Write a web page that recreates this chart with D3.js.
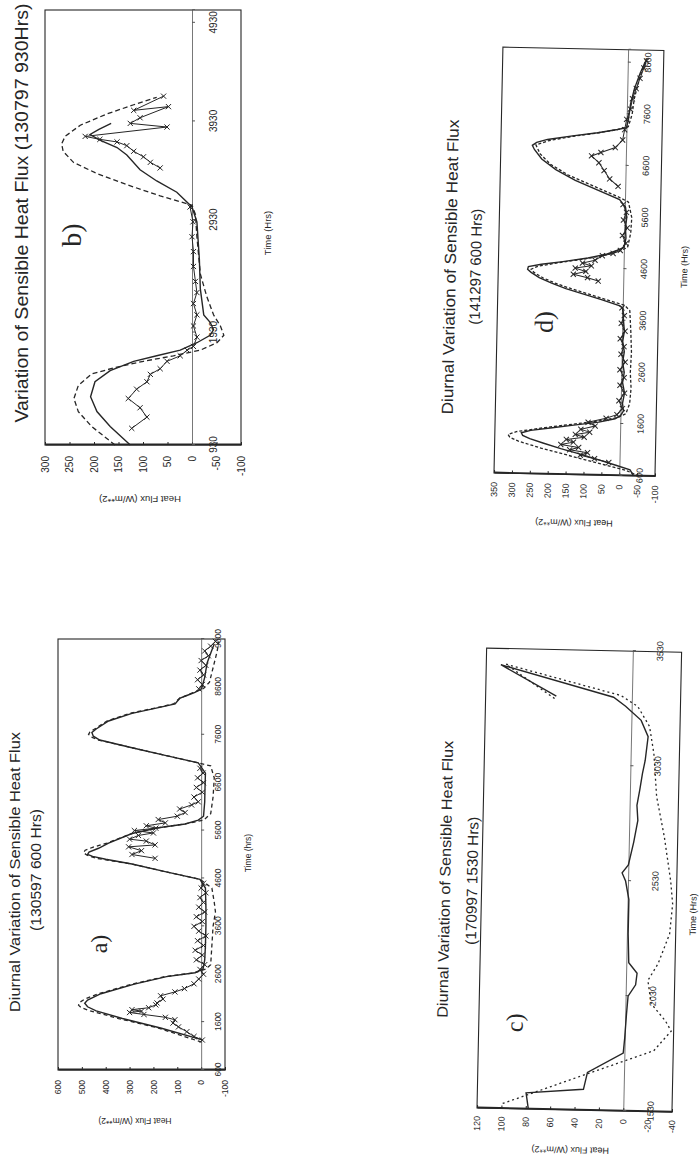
<!DOCTYPE html>
<html lang="en">
<head>
<meta charset="UTF-8" />
<title>Diurnal Variation of Sensible Heat Flux</title>
<script src="https://cdnjs.cloudflare.com/ajax/libs/d3/7.8.5/d3.min.js"></script>
<style>
  body { margin: 0; background: #fff; }
  svg { display: block; }
</style>
</head>
<body>
<script>
// ---- data (time in Hrs, heat flux in W/m**2) ----
// chart a) 130597 600 Hrs
const aTimeTicks = [600, 1600, 2600, 3600, 4600, 5600, 6600, 7600, 8600, 9600];
const aFluxTicks = [-100, 0, 100, 200, 300, 400, 500, 600];
const aSolid = [[1230,-5],[1476,170],[1675,330],[1835,440],[1920,476],[1994,488],[2060,476],[2193,420],[2392,280],[2551,145],[2631,26],[2711,-8],[2900,-15],[3200,-18],[3600,-20],[4000,-20],[4400,-18],[4583,5],[4742,151],[4901,290],[5000,400],[5060,455],[5100,476],[5150,470],[5230,430],[5339,388],[5538,290],[5658,179],[5738,67],[5817,12],[5900,-10],[6200,-15],[6454,-16],[6800,-18],[7012,12],[7171,151],[7330,290],[7490,425],[7570,452],[7649,458],[7720,440],[7888,388],[8047,290],[8167,179],[8246,109],[8300,100],[8366,88],[8420,60],[8485,26],[8565,-2],[8800,-15],[9100,-25],[9300,-40],[9500,-55]];
const aDash = [[1181,-2],[1476,179],[1675,346],[1835,465],[1900,502],[1954,514],[2010,510],[2080,488],[2193,430],[2392,290],[2551,151],[2631,26],[2711,-20],[2800,-40],[3200,-45],[3600,-50],[3900,-60],[4100,-55],[4400,-45],[4583,5],[4742,151],[4901,290],[5020,440],[5090,480],[5140,493],[5190,486],[5250,455],[5339,395],[5538,290],[5658,179],[5738,67],[5817,-10],[5950,-40],[6300,-50],[6700,-55],[6950,-40],[7012,12],[7171,151],[7330,290],[7490,430],[7550,460],[7609,472],[7660,466],[7740,440],[7888,395],[8047,300],[8167,185],[8246,115],[8366,90],[8485,30],[8565,-10],[8700,-35],[9000,-50],[9300,-65],[9550,-75]];
const aObs = [[1226,-5],[1300,30],[1400,60],[1500,95],[1580,118],[1650,110],[1700,150],[1760,240],[1800,300],[1830,250],[1860,290],[1900,220],[1960,190],[2000,185],[2080,160],[2150,170],[2230,110],[2300,70],[2400,30],[2500,10],[2600,-10],[2700,5],[2800,-15],[2900,20],[3000,-5],[3100,25],[3200,-10],[3300,15],[3400,-20],[3500,10],[3600,30],[3700,-5],[3800,20],[3900,-15],[4000,10],[4100,-10],[4200,5],[4300,-20],[4400,0],[4500,-10],null,[5020,193],[5100,290],[5180,250],[5260,304],[5300,193],[5380,230],[5420,300],[5498,263],[5550,200],[5600,280],[5650,190],[5700,230],[5760,150],[5830,180],[5900,100],[5976,67],[6050,90],[6135,40],[6200,12],[6300,30],[6400,-5],[6500,20],[6600,-10],[6700,15],[6800,-8],[6900,5],null,[8560,10],[8650,-5],[8750,15],[8850,-10],[8950,5],[9050,-20],[9150,0],[9250,-30],[9350,-15],[9450,-40],[9550,-60]];

// chart b) 130797 930 Hrs
const bTimeTicks = [930, 1930, 2930, 3930, 4930];
const bFluxTicks = [-100, -50, 0, 50, 100, 150, 200, 250, 300];
const bSolid = [[930,126],[1095,167],[1227,194],[1359,207],[1492,198],[1591,167],[1674,119],[1723,72],[1773,24],[1839,-10],[1905,-37],[1955,-44],[2021,-37],[2087,-24],[2318,-17],[2583,-15],[2914,-10],[3062,0],[3212,31],[3326,72],[3439,106],[3590,133],[3665,153],[3741,188],[3797,208],[3850,190],[3910,165]];
const bDash = [[930,157],[1095,205],[1227,232],[1343,241],[1459,232],[1561,205],[1623,153],[1674,99],[1723,38],[1773,-17],[1839,-51],[1905,-65],[1988,-58],[2087,-44],[2252,-30],[2450,-17],[2781,-10],[2986,-7],[3080,0],[3175,65],[3288,133],[3401,194],[3515,242],[3627,263],[3703,266],[3778,259],[3891,228],[4005,174],[4099,119],[4174,72]];
const bObs = [[1078,123],[1178,92],[1261,106],[1343,130],[1426,113],[1492,92],[1558,85],[1608,65],[1674,51],[1723,24],[1773,10],[1806,-3],[1889,-10],[1988,-3],[2087,-10],[2187,-3],[2285,-10],[2384,-7],[2517,-3],[2649,-3],[2781,0],[2914,-2],[3062,4],null,[3458,65],[3515,85],[3571,99],[3627,119],[3684,133],[3722,153],[3748,188],[3778,218],[3873,51],[3910,126],[3967,106],[4080,48],[4042,119],[4186,58]];

// chart c) 170997 1530 Hrs
const cTimeTicks = [1530, 2030, 2530, 3030, 3530];
const cFluxTicks = [-40, -20, 0, 20, 40, 60, 80, 100, 120];
const cSolid = [[1534,78],[1600,80],[1621,33],[1695,30],[1782,1],[1850,0],[1950,-1],[2030,-2],[2080,-8],[2130,-9],[2175,-2],[2300,-1],[2450,-1],[2530,2],[2565,5],[2600,0],[2700,-4],[2795,-7],[2860,-6],[2926,-8],[3000,-10],[3056,-12],[3160,-14],[3230,-8],[3290,5],[3328,15],[3459,108],[3328,62]];
const cDash = [[1552,99],[1673,38],[1795,-24],[1839,-31],[1882,-38],[1926,-33],[2000,-21],[2100,-18],[2173,-26],[2304,-35],[2434,-37],[2534,-35],[2726,-29],[2900,-22],[3087,-19],[3204,-15],[3290,-5],[3336,9],[3462,104],[3312,62]];

// chart d) 141297 600 Hrs
const dTimeTicks = [600, 1600, 2600, 3600, 4600, 5600, 6600, 7600, 8600];
const dFluxTicks = [-100, -50, 0, 50, 100, 150, 200, 250, 300, 350];
const dSolid = [[600,-40],[716,-30],[800,10],[900,60],[1000,110],[1100,165],[1200,215],[1280,252],[1340,272],[1390,276],[1440,250],[1500,190],[1560,130],[1627,60],[1700,15],[1762,0],[1850,-8],[2000,-5],[2200,-10],[2400,-4],[2600,-8],[2800,-3],[3000,-7],[3200,-2],[3400,-6],[3600,-3],[3850,0],[3893,10],[4000,60],[4100,110],[4200,160],[4300,200],[4400,235],[4500,258],[4560,268],[4610,266],[4660,230],[4720,170],[4800,100],[4880,50],[4958,20],[5020,0],[5200,-5],[5400,-3],[5600,-6],[5800,-2],[5946,15],[6100,70],[6300,140],[6500,195],[6700,235],[6880,256],[6960,262],[7020,250],[7080,220],[7160,150],[7230,80],[7300,25],[7340,0],[7500,-5],[7800,-10],[8100,-20],[8400,-35],[8640,-50]];
const dDash = [[600,-55],[700,-20],[800,40],[950,130],[1100,220],[1230,285],[1300,308],[1350,313],[1410,290],[1500,210],[1580,130],[1650,60],[1720,10],[1800,-15],[2000,-25],[2300,-28],[2600,-25],[3000,-27],[3400,-24],[3800,-20],[3900,-5],[4000,45],[4100,95],[4200,145],[4300,190],[4400,225],[4500,250],[4560,258],[4620,240],[4700,180],[4780,110],[4860,55],[4940,15],[5020,-10],[5300,-18],[5600,-20],[5900,-10],[6000,20],[6200,90],[6400,160],[6600,210],[6800,240],[6970,252],[7060,215],[7150,150],[7220,85],[7300,25],[7360,-5],[7600,-15],[7900,-20],[8200,-30],[8500,-42],[8700,-55]];
const dObs = [[850,30],[918,70],[980,110],[1030,90],[1080,140],[1130,115],[1180,165],[1230,130],[1280,150],[1330,100],[1380,125],[1430,85],[1480,110],[1550,70],[1620,90],[1704,40],[1780,10],[1900,-5],[2050,5],[2200,-10],[2350,3],[2500,-8],[2650,4],[2800,-10],[2950,2],[3100,-6],[3250,5],[3400,-8],[3550,3],[3700,-5],[3850,2],null,[4358,70],[4420,100],[4480,140],[4540,105],[4600,135],[4650,90],[4700,115],[4760,80],[4852,60],[4900,30],[4960,10],[5100,-5],[5250,5],[5400,-8],[5550,3],[5700,-5],[5850,5],null,[6200,20],[6340,44],[6500,60],[6650,75],[6779,96],[6850,70],[6950,30],[7100,10],[7300,5],[7500,0],[7700,-10],[7900,-15],[8100,-25],[8300,-35],[8500,-45],[8640,-52]];

// ---- drawing ----
const ink = "#262626";
const sans = "'Liberation Sans', Arial, sans-serif";
const serif = "'Liberation Serif', 'Times New Roman', serif";

const svg = d3.select("body").append("svg")
  .attr("width", 700).attr("height", 1160)
  .style("background", "#fff");

function label(g, x, y, str, size, opts = {}) {
  const t = g.append("text")
    .attr("transform", `translate(${x},${y})` + (opts.rotate ? ` rotate(${opts.rotate})` : ""))
    .attr("text-anchor", "middle")
    .attr("dominant-baseline", "central")
    .attr("font-family", opts.family || sans)
    .attr("font-size", size)
    .attr("fill", ink)
    .text(str);
  if (opts.len) t.attr("textLength", opts.len).attr("lengthAdjust", "spacingAndGlyphs");
  return t;
}

function drawChart(c) {
  // the scanned page is turned a quarter turn: time runs up the page
  const g = svg.append("g")
    .attr("transform", `translate(${c.left},${c.bottom}) rotate(${-90 + c.skew})`);
  const x = d3.scaleLinear().domain(c.timeDomain).range(c.timeRange);
  const y = d3.scaleLinear().domain(c.fluxDomain).range([c.h, 0]);
  const w = c.timeRange[c.timeRange.length - 1];

  g.append("rect").attr("width", w).attr("height", c.h)
    .attr("fill", "none").attr("stroke", ink).attr("stroke-width", 1.1);

  const ya = g.append("g")
    .call(d3.axisLeft(y).tickValues(c.fluxTicks).tickSizeInner(-3).tickSizeOuter(0)
      .tickPadding(c.yPad).tickFormat(d => String(d)));
  ya.select(".domain").attr("stroke", ink).attr("stroke-width", 1.8);
  ya.selectAll("line").attr("stroke", ink);
  ya.selectAll("text").attr("font-family", sans).attr("font-size", c.tickSize).attr("fill", ink);

  const xa = g.append("g").attr("transform", `translate(0,${y(0)})`)
    .call(d3.axisBottom(x).tickValues(c.timeTicks).tickSize(3)
      .tickPadding(c.xPad).tickFormat(d => String(d)));
  xa.select(".domain").attr("stroke", "#555").attr("stroke-width", 0.8);
  xa.selectAll("line").attr("stroke", "#555");
  xa.selectAll("text").attr("font-family", sans).attr("font-size", c.tickSize).attr("fill", ink);

  const line = d3.line().defined(d => d !== null).x(d => x(d[0])).y(d => y(d[1]));
  if (c.dash) g.append("path").datum(c.dash).attr("d", line).attr("fill", "none")
    .attr("stroke", ink).attr("stroke-width", 1.3).attr("stroke-dasharray", c.dashPattern);
  g.append("path").datum(c.solid).attr("d", line).attr("fill", "none")
    .attr("stroke", ink).attr("stroke-width", 1.4);
  if (c.obs) {
    g.append("path").datum(c.obs).attr("d", line).attr("fill", "none")
      .attr("stroke", ink).attr("stroke-width", 1);
    const s = 2.6;
    g.append("g").selectAll("path").data(c.obs.filter(d => d !== null)).join("path")
      .attr("transform", d => `translate(${x(d[0])},${y(d[1])})`)
      .attr("d", `M${-s},${-s}L${s},${s}M${-s},${s}L${s},${-s}`)
      .attr("stroke", ink).attr("stroke-width", 1);
  }

  const T = c.text;
  label(g, T.title[0], T.title[1], T.title[2], T.title[3], { len: T.title[4] });
  if (T.sub) label(g, T.sub[0], T.sub[1], T.sub[2], T.sub[3], { len: T.sub[4] });
  label(g, T.tag[0], T.tag[1], T.tag[2], T.tag[3], { family: serif });
  label(g, T.time[0], T.time[1], T.time[2], c.axisSize);
  label(g, T.flux[0], T.flux[1], "Heat Flux (W/m**2)", c.axisSize, { rotate: -90 });
}

drawChart({
  left: 58, bottom: 1070, h: 167, skew: 0,
  timeDomain: [600, 9600], timeRange: [0, 431],
  fluxDomain: [-100, 600], timeTicks: aTimeTicks, fluxTicks: aFluxTicks,
  yPad: 10, xPad: 11, tickSize: 8.5, axisSize: 8.5,
  solid: aSolid, dash: aDash, obs: aObs, dashPattern: "4,3",
  text: {
    title: [198, -44, "Diurnal Variation of Sensible Heat Flux", 15, 280],
    sub: [200, -23, "(130597 600 Hrs)", 15, 122],
    tag: [126, 41, "a)", 24],
    time: [217, 190, "Time (hrs)"],
    flux: [-51, 77]
  }
});

drawChart({
  left: 45, bottom: 445, h: 196, skew: 0,
  timeDomain: [930, 2930, 5060], timeRange: [0, 225, 435],
  fluxDomain: [-100, 300], timeTicks: bTimeTicks, fluxTicks: bFluxTicks,
  yPad: 11, xPad: 15, tickSize: 10, axisSize: 9.5,
  solid: bSolid, dash: bDash, obs: bObs, dashPattern: "5,3",
  text: {
    title: [232, -23, "Variation of Sensible Heat Flux (130797 930Hrs)", 18, 419],
    tag: [210, 26, "b)", 28],
    time: [212, 222, "Time (Hrs)"],
    flux: [-54, 95]
  }
});

drawChart({
  left: 477, bottom: 1108, h: 195, skew: 1.2,
  timeDomain: [1530, 3530], timeRange: [0, 460],
  fluxDomain: [-40, 120], timeTicks: cTimeTicks, fluxTicks: cFluxTicks,
  yPad: 8, xPad: 21, tickSize: 9, axisSize: 9,
  solid: cSolid, dash: cDash, obs: null, dashPattern: "2,3",
  text: {
    title: [228, -37, "Diurnal Variation of Sensible Heat Flux", 15, 277],
    sub: [227, -10, "(170997 1530 Hrs)", 15, 128],
    tag: [86, 36, "c)", 24],
    time: [198, 212, "Time (Hrs)"],
    flux: [-40, 94]
  }
});

drawChart({
  left: 494, bottom: 473, h: 161, skew: 1.2,
  timeDomain: [600, 8850], timeRange: [0, 426],
  fluxDomain: [-100, 350], timeTicks: dTimeTicks, fluxTicks: dFluxTicks,
  yPad: 9, xPad: 14, tickSize: 9, axisSize: 9,
  solid: dSolid, dash: dDash, obs: dObs, dashPattern: "3,2",
  text: {
    title: [205, -48, "Diurnal Variation of Sensible Heat Flux", 16, 295],
    sub: [206, -23, "(141297 600 Hrs)", 15, 116],
    tag: [152, 47, "d)", 26],
    time: [210, 186, "Time (Hrs)"],
    flux: [-48, 81]
  }
});
</script>
</body>
</html>
